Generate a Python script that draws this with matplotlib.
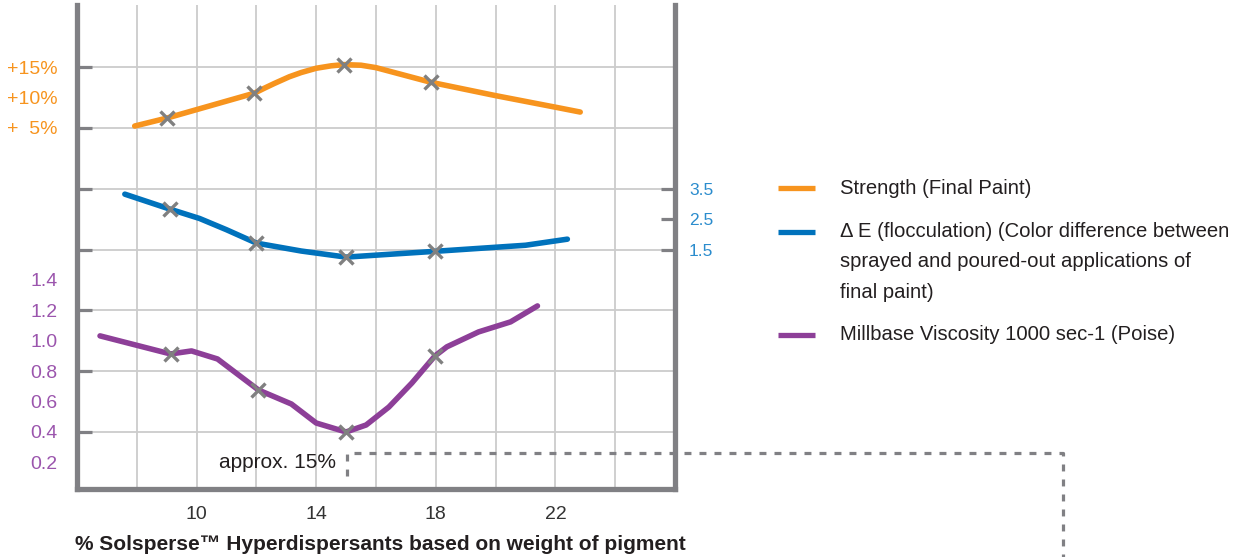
import matplotlib
matplotlib.use("Agg")
import matplotlib.pyplot as plt
from matplotlib.lines import Line2D

plt.rcParams['font.family'] = ['Liberation Sans', 'DejaVu Sans']
plt.rcParams['lines.scale_dashes'] = False

# ---------------- data ----------------
strength_x = [7.93, 9.0, 11.93, 12.3, 12.6, 13.1, 13.5, 14.0, 14.5, 14.93, 15.5, 16.0, 17.83, 20.0, 22.0, 22.83]
strength_y = [5.3, 6.6, 10.7, 11.6, 12.3, 13.4, 14.1, 14.8, 15.2, 15.4, 15.3, 14.9, 12.5, 10.3, 8.4, 7.6]
strength_mx = [9.0, 11.93, 14.93, 17.83]
strength_my = [6.6, 10.7, 15.4, 12.5]

dE_x = [7.6, 9.1, 10.1, 11.0, 12.0, 13.5, 15.0, 17.97, 21.0, 22.4]
dE_y = [3.32, 2.83, 2.52, 2.15, 1.71, 1.45, 1.25, 1.44, 1.64, 1.84]
dE_mx = [9.1, 12.0, 15.0, 17.97]
dE_my = [2.83, 1.71, 1.25, 1.44]

visc_x = [6.77, 9.13, 9.83, 10.7, 12.07, 13.17, 14.0, 15.0, 15.67, 16.43, 17.2, 17.97, 18.37, 19.43, 20.5, 21.4]
visc_y = [1.032, 0.913, 0.933, 0.88, 0.676, 0.584, 0.459, 0.40, 0.446, 0.564, 0.722, 0.90, 0.96, 1.058, 1.124, 1.229]
visc_mx = [9.13, 12.07, 15.0, 17.97]
visc_my = [0.913, 0.676, 0.40, 0.90]

x_ticks = [10, 14, 18, 22]
x_grid = [8, 10, 12, 14, 16, 18, 20, 22, 24]
strength_ticks = [5, 10, 15]
strength_labels = ['+  5%', '+10%', '+15%']
dE_ticks = [1.5, 2.5, 3.5]
dE_labels = ['1.5', '2.5', '3.5']
visc_ticks = [0.2, 0.4, 0.6, 0.8, 1.0, 1.2, 1.4]
visc_labels = ['0.2', '0.4', '0.6', '0.8', '1.0', '1.2', '1.4']

legend_labels = ['Strength (Final Paint)',
                 'Δ E (flocculation) (Color difference between\nsprayed and poured-out applications of\nfinal paint)',
                 'Millbase Viscosity 1000 sec-1 (Poise)']
x_label = '% Solsperse\u2122 Hyperdispersants based on weight of pigment'
note_text = 'approx. 15%'

# ---------------- styling ----------------
ORANGE = '#F7941E'
BLUE = '#0072BC'
PURPLE = '#8D3F98'
ORANGE_T = '#F7941E'
BLUE_T = '#2B8CCD'
PURPLE_T = '#9B55AD'
SPINE = '#808084'
GRID = '#CCCCCC'
MARK = '#808080'
TXT = '#231F20'

W, H = 1251, 557
fig = plt.figure(figsize=(W / 100, H / 100), dpi=100)

def fx(px):
    return px / W

def fy(py):
    return 1 - py / H

L, R, T, B = 77, 675, 5, 489
ax = fig.add_axes([fx(L), fy(B), fx(R) - fx(L), fy(T) - fy(B)])

# base grid-unit frame: horizontal gridlines at u = 1..7
u_lo, u_hi = 0.0625, 8.02
ax.set_xlim(6, 26)
ax.set_ylim(u_lo, u_hi)
ax.set_xticks(x_grid, minor=True)
ax.set_yticks(range(1, 8))
ax.set_xticks(x_ticks)
ax.set_xticklabels([str(v) for v in x_ticks])
ax.tick_params(axis='x', which='both', length=0, pad=12, labelsize=14, labelcolor='#333333')
ax.tick_params(axis='y', direction='in', length=11, width=2.3, color=SPINE, labelleft=False)
ax.grid(True, which='both', axis='x', color=GRID, lw=1.3)
ax.grid(True, which='major', axis='y', color=GRID, lw=1.3)
ax.set_axisbelow(True)
for s in ['left', 'bottom', 'right']:
    ax.spines[s].set_color(SPINE)
    ax.spines[s].set_linewidth(3.8)
ax.spines['top'].set_visible(False)

def twin(lo, hi):
    t = ax.twinx()
    t.set_ylim(lo, hi)
    for s in t.spines.values():
        s.set_visible(False)
    return t

# strength: 5% at u=6, 15% at u=7
axS = twin(5 + (u_lo - 6) * 10, 5 + (u_hi - 6) * 10)
# delta E: 1.5 at u=4, 3.5 at u=5
axE = twin(1.5 + (u_lo - 4) * 2, 1.5 + (u_hi - 4) * 2)
# viscosity: 0.4 at u=1, 1.2 at u=3
axV = twin(0.4 + (u_lo - 1) * 0.4, 0.4 + (u_hi - 1) * 0.4)

for a, ticks, labels, col in [(axS, strength_ticks, strength_labels, ORANGE_T),
                              (axV, visc_ticks, visc_labels, PURPLE_T)]:
    a.yaxis.tick_left()
    a.set_yticks(ticks)
    a.set_yticklabels(labels)
    a.tick_params(axis='y', length=0, pad=14, labelsize=14, labelcolor=col)

axE.yaxis.tick_right()
axE.set_yticks(dE_ticks)
axE.set_yticklabels(dE_labels)
axE.tick_params(axis='y', direction='in', length=10, width=2.3, color=SPINE,
                pad=10, labelsize=12.5, labelcolor=BLUE_T)

lw = 4.0
kw = dict(lw=lw, solid_capstyle='round', solid_joinstyle='round', zorder=3)
axS.plot(strength_x, strength_y, color=ORANGE, **kw)
axE.plot(dE_x, dE_y, color=BLUE, **kw)
axV.plot(visc_x, visc_y, color=PURPLE, **kw)
for a, mx, my in [(axS, strength_mx, strength_my), (axE, dE_mx, dE_my), (axV, visc_mx, visc_my)]:
    a.plot(mx, my, ls='none', marker='x', ms=10.5, mew=2.4, color=MARK, zorder=4)

# x label
ax.set_xlabel(x_label, loc='left', fontsize=15, fontweight='bold', color=TXT, labelpad=9)
ax.xaxis.label.set_x(-0.004)

# "approx. 15%" annotation with dashed guide
fig.text(fx(336), fy(463), note_text, fontsize=15, color=TXT, ha='right', va='center')
guide = Line2D([fx(347), fx(347), fx(1063), fx(1063)],
               [fy(476), fy(453), fy(453), fy(560)],
               transform=fig.transFigure, color=SPINE, lw=2.3)
guide.set_dashes((5, 5.8))
fig.add_artist(guide)

# legend (manual)
for col, y0 in [(ORANGE, 188), (BLUE, 232), (PURPLE, 335)]:
    fig.add_artist(Line2D([fx(778), fx(815)], [fy(y0), fy(y0)], transform=fig.transFigure,
                          color=col, lw=3.8, solid_capstyle='butt'))
for lab, y0 in zip(legend_labels, [188, 232, 335]):
    for i, line in enumerate(lab.split('\n')):
        fig.text(fx(840), fy(y0 + 30 * i), line, fontsize=14.6, color=TXT,
                 ha='left', va='center')

fig.savefig('out.png', dpi=100)
